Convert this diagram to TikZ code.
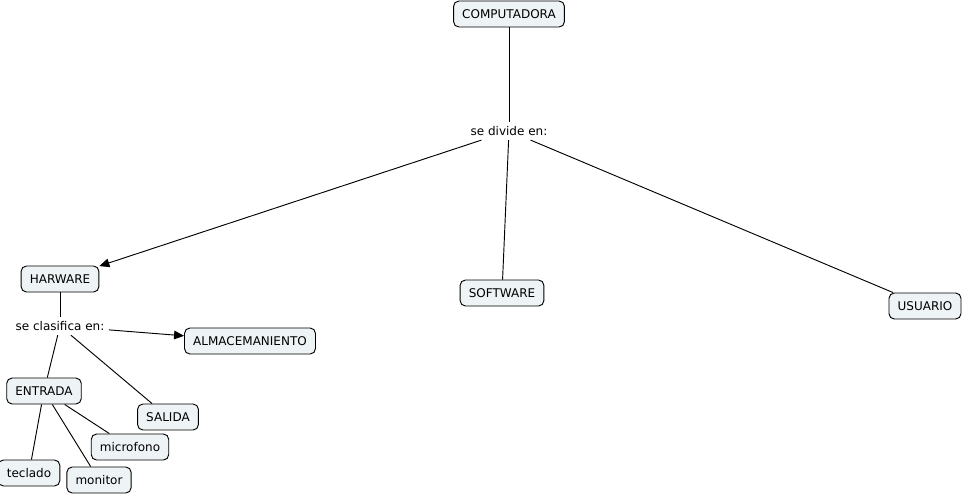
\documentclass[tikz,border=0pt]{standalone}
\usepackage{fontspec}
\setmainfont{DejaVu Sans}
\usepackage{tikz}
\usetikzlibrary{arrows.meta,positioning}
\definecolor{conceptfill}{RGB}{238,243,245}

\begin{document}
\begin{tikzpicture}[x=0.75pt,y=-0.75pt,on grid,font=\fontsize{9}{10}\selectfont,
  line width=0.7pt,>={Triangle[length=7.5pt,width=6.5pt]},
  concept/.style={draw,rounded corners=4pt,fill=conceptfill,inner xsep=6.5pt,
    inner ysep=2pt,minimum height=19.5pt},
  phrase/.style={inner sep=3pt}]

  \useasboundingbox (0,0) rectangle (965,494);

  \node[concept]	(comp)	at (509,14)				{COMPUTADORA};
  \node[phrase]		(divide)	[below=87.75pt of comp]			{se divide en:};
  \node[concept]	(hard)	[below left=111pt and 336.75pt of divide]	{HARWARE};
  \node[concept]	(soft)	[below left=121.5pt and 5.25pt of divide]	{SOFTWARE};
  \node[concept]	(user)	[below right=131.25pt and 312pt of divide]	{USUARIO};
  \node[phrase]		(clasif)	[below=35.25pt of hard]			{se clasifica en:};
  \node[concept]	(almac)	[below right=11.25pt and 142.5pt of clasif]	{ALMACEMANIENTO};
  \node[concept]	(entrada)	[below left=48.75pt and 12pt of clasif]	{ENTRADA};
  \node[concept]	(salida)	[below right=68.25pt and 81pt of clasif]	{SALIDA};
  \node[concept]	(micro)	[below right=42pt and 64.5pt of entrada]	{microfono};
  \node[concept]	(teclado)	[below left=61.5pt and 11.25pt of entrada]	{teclado};
  \node[concept]	(monitor)	[below right=66.75pt and 41.25pt of entrada]	{monitor};

 \path
     (comp)	edge		(divide)
     (divide)	edge [->]	(hard)
           edge			(soft)
           edge			(user)
     (hard)	edge		(clasif)
     (clasif)	edge [->]	(almac)
           edge			(entrada)
           edge			(salida)
     (entrada)	edge		(teclado)
           edge			(monitor)
           edge			(micro)
  ;
\end{tikzpicture}
\end{document}
